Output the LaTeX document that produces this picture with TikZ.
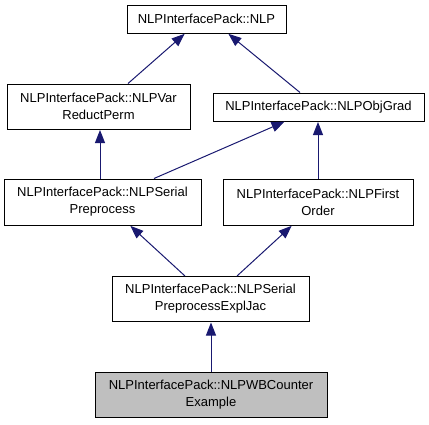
\documentclass[tikz,border=0pt]{standalone}
\usepackage{fontspec}
\setmainfont{Liberation Sans}
\usepackage{xcolor}
\usepackage{tikz}
\usetikzlibrary{arrows.meta}
\definecolor{edgeblue}{HTML}{191970}
\definecolor{curgray}{HTML}{BFBFBF}
\tikzset{
	cls/.style={draw=black, line width=1pt, fill=white, inner sep=0pt, align=center,
		font=\fontsize{13}{17}\selectfont},
	cur/.style={cls, fill=curgray},
	inh/.style={draw=edgeblue, line width=1pt, -{Triangle[length=13pt, width=10pt]}, shorten >=0.5pt}
}
\begin{document}
	\begin{tikzpicture}[x=1pt, y=-1pt]
		\useasboundingbox (0,0) rectangle (429,424);
		% top
		\node [cls, minimum width=159pt, minimum height=28pt] (nlp) at (206.5,19) {NLPInterfacePack::NLP};
		% second row
		\node [cls, minimum width=183pt, minimum height=45pt] (vrp) at (98.5,106.5) {NLPInterfacePack::NLPVar\\ReductPerm};
		\node [cls, minimum width=211pt, minimum height=28pt] (og)  at (318.5,107) {NLPInterfacePack::NLPObjGrad};
		% third row
		\node [cls, minimum width=197pt, minimum height=46pt] (spp) at (102.5,202) {NLPInterfacePack::NLPSerial\\Preprocess};
		\node [cls, minimum width=190pt, minimum height=46pt] (fo)  at (318,202)   {NLPInterfacePack::NLPFirst\\Order};
		% fourth row
		\node [cls, minimum width=197pt, minimum height=45pt] (ej)  at (210.5,299) {NLPInterfacePack::NLPSerial\\PreprocessExplJac};
		% the class itself
		\node [cur, minimum width=232pt, minimum height=45pt] (wb)  at (211,394.5) {NLPInterfacePack::NLPWBCounter\\Example};
		% inheritance
		\draw [inh] ([xshift=29.5pt]vrp.north) -- ([xshift=-21.5pt]nlp.south);
		\draw [inh] ([xshift=-18.5pt]og.north) -- ([xshift=21.5pt]nlp.south);
		\draw [inh] ([xshift=-2.5pt]spp.north) -- ([xshift=1.5pt]vrp.south);
		\draw [inh] ([xshift=51.5pt]spp.north) -- ([xshift=-33.5pt]og.south);
		\draw [inh] (fo.north) -- (og.south -| fo.north);
		\draw [inh] ([xshift=-25.5pt]ej.north) -- ([xshift=27.5pt]spp.south);
		\draw [inh] ([xshift=26.5pt]ej.north) -- ([xshift=-26pt]fo.south);
		\draw [inh] (wb.north) -- (ej.south -| wb.north);
	\end{tikzpicture}
\end{document}
